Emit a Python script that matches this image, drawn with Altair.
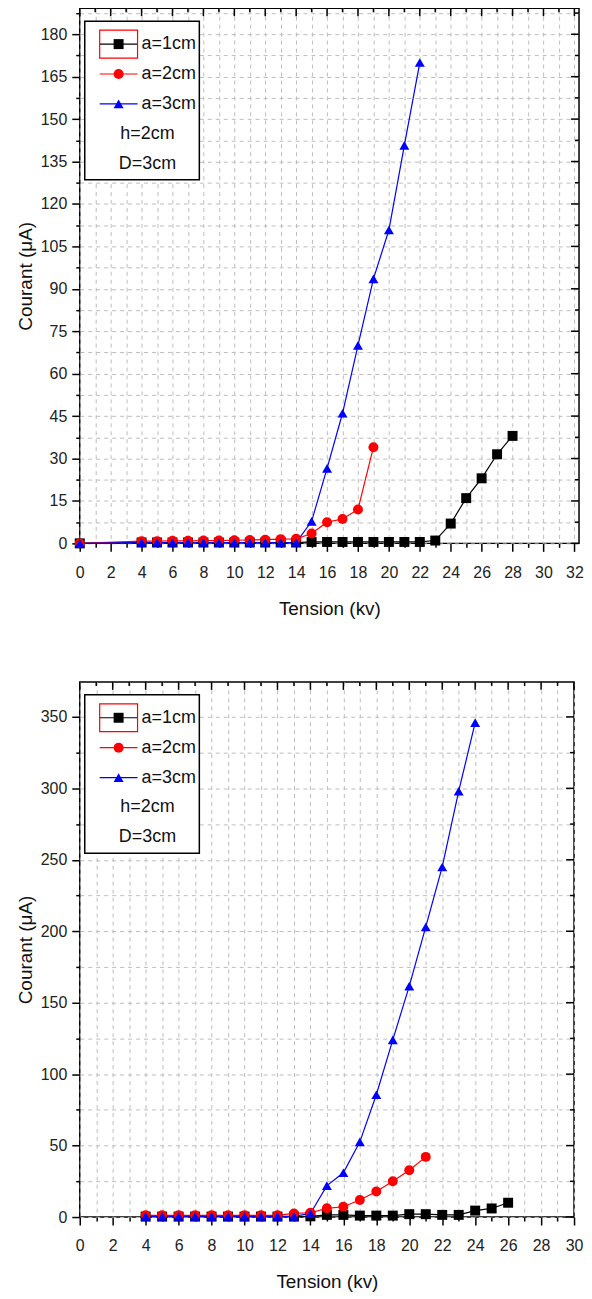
import altair as alt
import pandas as pd

FONT = "Liberation Sans, Arial, sans-serif"

series = ["a=1cm", "a=2cm", "a=3cm"]
colors = ["#000000", "#ff0000", "#0000ff"]
shapes = ["square", "circle", "triangle-up"]

# ---- top panel data ----
top_x1 = [0, 4, 5, 6, 7, 8, 9, 10, 11, 12, 13, 14, 15, 16, 17, 18, 19, 20, 21, 22, 23, 24, 25, 26, 27, 28]
top_y1 = [0, 0.3, 0.3, 0.3, 0.3, 0.3, 0.3, 0.3, 0.3, 0.3, 0.3, 0.3, 0.5, 0.5, 0.5, 0.5, 0.5, 0.5, 0.5, 0.5, 1.0, 7.0, 16.0, 23.0, 31.5, 38.0]
top_x2 = [0, 4, 5, 6, 7, 8, 9, 10, 11, 12, 13, 14, 15, 16, 17, 18, 19]
top_y2 = [0, 0.8, 0.8, 0.9, 0.9, 1.0, 1.0, 1.1, 1.2, 1.3, 1.5, 1.6, 3.5, 7.5, 8.6, 12.0, 34.0]
top_x3 = [0, 4, 5, 6, 7, 8, 9, 10, 11, 12, 13, 14, 15, 16, 17, 18, 19, 20, 21, 22]
top_y3 = [0, 0.3, 0.3, 0.3, 0.3, 0.3, 0.3, 0.3, 0.3, 0.3, 0.3, 0.3, 7.8, 26.5, 46.0, 70.0, 93.5, 110.8, 140.7, 170.0]

# ---- bottom panel data ----
bot_x1 = [4, 5, 6, 7, 8, 9, 10, 11, 12, 13, 14, 15, 16, 17, 18, 19, 20, 21, 22, 23, 24, 25, 26]
bot_y1 = [0.3, 0.3, 0.3, 0.3, 0.3, 0.3, 0.3, 0.3, 0.3, 0.3, 0.5, 1.5, 1.5, 1.0, 1.0, 1.0, 2.0, 2.0, 1.5, 1.5, 4.5, 6.0, 10.0]
bot_x2 = [4, 5, 6, 7, 8, 9, 10, 11, 12, 13, 14, 15, 16, 17, 18, 19, 20, 21]
bot_y2 = [1.2, 1.2, 1.2, 1.2, 1.2, 1.2, 1.2, 1.2, 1.2, 2.5, 3.0, 6.1, 7.2, 11.9, 17.9, 25.0, 32.8, 42.1]
bot_x3 = [4, 5, 6, 7, 8, 9, 10, 11, 12, 13, 14, 15, 16, 17, 18, 19, 20, 21, 22, 23, 24]
bot_y3 = [0.5, 0.5, 0.5, 0.5, 0.5, 0.5, 0.5, 0.5, 0.5, 0.5, 2.5, 22.0, 31.0, 52.6, 85.6, 124.0, 161.6, 203.0, 245.0, 298.0, 346.0]

legend_note = ["h=2cm", "D=3cm"]
x_title = "Tension (kv)"
y_title = "Courant (\u03bcA)"

GRID = "#bdbdbd"


def frame(xs_list, ys_list):
    rows = []
    for s, xs, ys in zip(series, xs_list, ys_list):
        for x, y in zip(xs, ys):
            rows.append({"s": s, "x": x, "y": y})
    return pd.DataFrame(rows)


def legend_layers():
    one = pd.DataFrame({"k": [0]})
    out = [
        alt.Chart(one).mark_rect(fill="white", stroke="black", strokeWidth=1.5)
        .encode(x=alt.value(5), x2=alt.value(120), y=alt.value(13), y2=alt.value(172))
    ]
    rows_y = [36, 66, 96]
    for s, c, shp, cy in zip(series, colors, shapes, rows_y):
        lab = pd.DataFrame({"s": [s]})
        out.append(alt.Chart(lab).mark_rule(color=c, strokeWidth=1.2)
                   .encode(x=alt.value(20), x2=alt.value(58), y=alt.value(cy)))
        out.append(alt.Chart(lab).mark_point(filled=True, size=100, opacity=1, shape=shp, color=c)
                   .encode(x=alt.value(39), y=alt.value(cy)))
        out.append(alt.Chart(lab).mark_text(align="left", baseline="middle", font=FONT,
                                            fontSize=18, color="#111")
                   .encode(x=alt.value(62), y=alt.value(cy), text="s:N"))
    for note, cy in zip(legend_note, [126, 156]):
        out.append(alt.Chart(pd.DataFrame({"t": [note]}))
                   .mark_text(align="center", baseline="middle", font=FONT, fontSize=18, color="#111")
                   .encode(x=alt.value(68), y=alt.value(cy), text="t:N"))
    # red selection frame around the first legend entry (as in the source figure)
    out.append(alt.Chart(one).mark_rect(fill="transparent", stroke="#ff0000", strokeWidth=1.2)
               .encode(x=alt.value(20), x2=alt.value(58), y=alt.value(22), y2=alt.value(50)))
    return out


def panel(df, xmax, ymax, ystep, ylabstep, width, height):
    xvals = list(range(0, int(xmax) + 1))
    n = int(ymax / ystep + 1e-9)
    yvals = [round(i * ystep, 3) for i in range(n + 1)]

    xscale = alt.Scale(domain=[0, xmax], nice=False, zero=False)
    yscale = alt.Scale(domain=[0, ymax], nice=False, zero=False)
    cscale = alt.Scale(domain=series, range=colors)

    ytest = f"datum.value % {ylabstep} === 0"
    xaxis = alt.Axis(
        orient="bottom", values=xvals, title=x_title,
        labelExpr="datum.value % 2 === 0 ? datum.label : ''",
        labelFlush=False, labelOverlap=False,
        grid=True, gridDash=[4, 4], gridColor=GRID, gridWidth=1,
        domain=False, tickColor="black", tickWidth=1.5,
        tickSize={"condition": {"test": "datum.value % 2 === 0", "value": 8}, "value": 4},
        labelPadding=13, titlePadding=19,
    )
    yaxis = alt.Axis(
        orient="left", values=yvals, title=y_title,
        labelExpr=f"{ytest} ? datum.label : ''",
        labelFlush=False, labelOverlap=False,
        grid=True, gridDash=[4, 4], gridColor=GRID, gridWidth=1,
        domain=False, tickColor="black", tickWidth=1.5,
        tickSize={"condition": {"test": ytest, "value": 8}, "value": 4},
        labelPadding=5, titlePadding=5,
    )

    layers = []
    lines = alt.Chart(df).mark_line(strokeWidth=1.2).encode(
        x=alt.X("x:Q", scale=xscale, axis=xaxis),
        y=alt.Y("y:Q", scale=yscale, axis=yaxis),
        color=alt.Color("s:N", scale=cscale, legend=None),
    )
    layers.append(lines)

    # mirrored inward ticks on top and right edges
    tx = pd.DataFrame({"v": xvals, "major": [v % 2 == 0 for v in xvals]})
    ty = pd.DataFrame({"v": yvals, "major": [abs(v % ylabstep) < 1e-6 for v in yvals]})
    for flag, ln in [(True, 8), (False, 4)]:
        layers.append(
            alt.Chart(tx).transform_filter(alt.datum.major == flag)
            .mark_rule(color="black", strokeWidth=1.5)
            .encode(x=alt.X("v:Q", scale=xscale, axis=None),
                    y=alt.value(0), y2=alt.value(ln))
        )
        layers.append(
            alt.Chart(ty).transform_filter(alt.datum.major == flag)
            .mark_rule(color="black", strokeWidth=1.5)
            .encode(y=alt.Y("v:Q", scale=yscale, axis=None),
                    x=alt.value(width - ln), x2=alt.value(width))
        )

    for s, shp in zip(series, shapes):
        layers.append(
            alt.Chart(df).transform_filter(alt.datum.s == s)
            .mark_point(filled=True, size=100, opacity=1, shape=shp)
            .encode(
                x=alt.X("x:Q", scale=xscale, axis=None),
                y=alt.Y("y:Q", scale=yscale, axis=None),
                color=alt.Color("s:N", scale=cscale, legend=None),
            )
        )

    layers += legend_layers()
    return alt.layer(*layers).resolve_axis(
        x="independent", y="independent"
    ).properties(width=width, height=height)


top = panel(frame([top_x1, top_x2, top_x3], [top_y1, top_y2, top_y3]),
            32.3, 189.2, 7.5, 15, 501, 537)
bottom = panel(frame([bot_x1, bot_x2, bot_x3], [bot_y1, bot_y2, bot_y3]),
               30, 374.5, 25, 50, 496, 537)

chart = alt.vconcat(top, bottom, spacing=61).properties(
    padding={"left": 7, "top": -6, "right": 0, "bottom": 0}
).configure_view(stroke="black", strokeWidth=1.5).configure_axis(
    labelFont=FONT, labelFontSize=16, labelColor="#222",
    titleFont=FONT, titleFontSize=19, titleFontWeight="normal", titleColor="#111",
)

chart.save("out.html", embed_options={"renderer": "svg", "actions": False})
